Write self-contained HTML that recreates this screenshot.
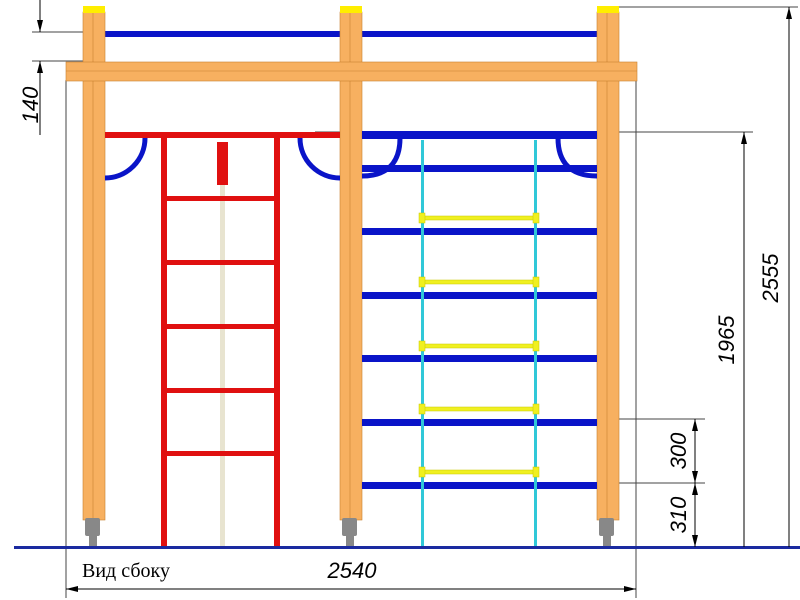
<!DOCTYPE html>
<html><head><meta charset="utf-8"><style>html,body{margin:0;padding:0;background:#fff}svg{display:block}</style></head>
<body>
<svg width="800" height="600" viewBox="0 0 800 600" xmlns="http://www.w3.org/2000/svg">
<defs>
<marker id="a" viewBox="0 0 12 6" refX="12" refY="3" markerWidth="12" markerHeight="6" orient="auto" markerUnits="userSpaceOnUse"><path d="M0,0 L12,3 L0,6 Z" fill="#000"/></marker>
</defs>
<!-- extension lines -->
<g stroke="#444" stroke-width="1" fill="none">
<line x1="66" y1="80" x2="66" y2="598"/>
<line x1="636" y1="80" x2="636" y2="598"/>
<line x1="32" y1="32" x2="105" y2="32"/>
<line x1="32" y1="61" x2="105" y2="61"/>
<line x1="610" y1="7" x2="798" y2="7"/>
<line x1="315" y1="132" x2="753" y2="132"/>
<line x1="597" y1="419" x2="705" y2="419"/>
<line x1="597" y1="483" x2="705" y2="483"/>
</g>
<!-- top blue bar -->
<rect x="105" y="31" width="492" height="6" fill="#0a14c8"/>
<!-- posts -->
<g>
<rect x="83" y="12" width="22" height="508" fill="#f7b060" stroke="#c88030" stroke-width="0.6"/>
<rect x="340" y="12" width="22" height="508" fill="#f7b060" stroke="#c88030" stroke-width="0.6"/>
<rect x="597" y="12" width="22" height="508" fill="#f7b060" stroke="#c88030" stroke-width="0.6"/>
<line x1="93" y1="12" x2="93" y2="520" stroke="#c88030" stroke-width="0.6"/>
<line x1="350" y1="12" x2="350" y2="520" stroke="#c88030" stroke-width="0.6"/>
<line x1="607" y1="12" x2="607" y2="520" stroke="#c88030" stroke-width="0.6"/>
<rect x="83" y="6" width="22" height="7" fill="#ffee00"/>
<rect x="340" y="6" width="22" height="7" fill="#ffee00"/>
<rect x="597" y="6" width="22" height="7" fill="#ffee00"/>
</g>
<!-- footings -->
<g fill="#888">
<rect x="85" y="518" width="15" height="18" rx="2"/><rect x="89" y="534" width="8" height="13"/>
<rect x="342" y="518" width="15" height="18" rx="2"/><rect x="346" y="534" width="8" height="13"/>
<rect x="599" y="518" width="15" height="18" rx="2"/><rect x="603" y="534" width="8" height="13"/>
</g>
<!-- top beam -->
<rect x="66" y="62" width="571" height="19" fill="#f7b060" stroke="#c88030" stroke-width="0.6"/>
<line x1="66" y1="71" x2="637" y2="71" stroke="#c88030" stroke-width="0.6"/>
<!-- rope left -->
<rect x="220" y="150" width="5" height="397" fill="#e8e4d0"/>
<rect x="217" y="142" width="11" height="43" fill="#e01010"/>
<!-- blue arcs -->
<g stroke="#0a14c8" stroke-width="5" fill="none">
<path d="M145,138 A40,40 0 0 1 105,178"/>
<path d="M300,138 A40,40 0 0 0 340,178"/>
<path d="M400,138 C400,160 390,176 362,176"/>
<path d="M558,138 C558,160 568,176 597,176"/>
</g>
<!-- red ladder -->
<g fill="#e01010">
<rect x="105" y="132" width="235" height="6"/>
<rect x="161" y="135" width="6" height="412"/>
<rect x="274" y="135" width="6" height="412"/>
<rect x="167" y="196" width="107" height="5"/>
<rect x="167" y="260" width="107" height="5"/>
<rect x="167" y="324" width="107" height="5"/>
<rect x="167" y="388" width="107" height="5"/>
<rect x="167" y="451" width="107" height="5"/>
</g>
<!-- blue section -->
<g fill="#0a14c8">
<rect x="362" y="131" width="235" height="8"/>
<rect x="362" y="165" width="235" height="7"/>
<rect x="362" y="228" width="235" height="7"/>
<rect x="362" y="292" width="235" height="7"/>
<rect x="362" y="355" width="235" height="7"/>
<rect x="362" y="419" width="235" height="7"/>
<rect x="362" y="482" width="235" height="7"/>
</g>
<!-- cyan ropes -->
<rect x="421" y="140" width="3" height="407" fill="#30c8d8"/>
<rect x="534" y="140" width="3" height="407" fill="#30c8d8"/>
<!-- yellow rungs -->
<g fill="#f0f020" stroke="#c8c800" stroke-width="0.5">
<rect x="422" y="216" width="116" height="4"/><rect x="419" y="213" width="6" height="10"/><rect x="533" y="213" width="6" height="10"/>
<rect x="422" y="280" width="116" height="4"/><rect x="419" y="277" width="6" height="10"/><rect x="533" y="277" width="6" height="10"/>
<rect x="422" y="344" width="116" height="4"/><rect x="419" y="341" width="6" height="10"/><rect x="533" y="341" width="6" height="10"/>
<rect x="422" y="407" width="116" height="4"/><rect x="419" y="404" width="6" height="10"/><rect x="533" y="404" width="6" height="10"/>
<rect x="422" y="470" width="116" height="4"/><rect x="419" y="467" width="6" height="10"/><rect x="533" y="467" width="6" height="10"/>
</g>
<!-- ground -->
<rect x="14" y="546" width="786" height="3" fill="#1a2aa0"/>
<!-- dimension lines -->
<g stroke="#000" stroke-width="1" fill="none">
<line x1="40" y1="0" x2="40" y2="32" marker-end="url(#a)"/>
<line x1="40" y1="135" x2="40" y2="61" marker-end="url(#a)"/>
<line x1="789" y1="547" x2="789" y2="7" marker-end="url(#a)"/>
<line x1="744" y1="547" x2="744" y2="132" marker-end="url(#a)"/>
<line x1="695" y1="451" x2="695" y2="419" marker-end="url(#a)"/>
<line x1="695" y1="451" x2="695" y2="483" marker-end="url(#a)"/>
<line x1="695" y1="515" x2="695" y2="483" marker-end="url(#a)"/>
<line x1="695" y1="515" x2="695" y2="547" marker-end="url(#a)"/>
<line x1="350" y1="589" x2="66" y2="589" marker-end="url(#a)"/>
<line x1="350" y1="589" x2="636" y2="589" marker-end="url(#a)"/>
</g>
<g font-family="Liberation Sans, sans-serif" font-style="italic" font-size="22" fill="#000" text-anchor="middle">
<text transform="translate(38,105) rotate(-90)">140</text>
<text transform="translate(778,278) rotate(-90)">2555</text>
<text transform="translate(734,340) rotate(-90)">1965</text>
<text transform="translate(686,451) rotate(-90)">300</text>
<text transform="translate(686,515) rotate(-90)">310</text>
<text x="352" y="578">2540</text>
</g>
<text x="82" y="577" font-family="Liberation Serif, serif" font-size="20" fill="#000">Вид сбоку</text>
</svg>
</body></html>
